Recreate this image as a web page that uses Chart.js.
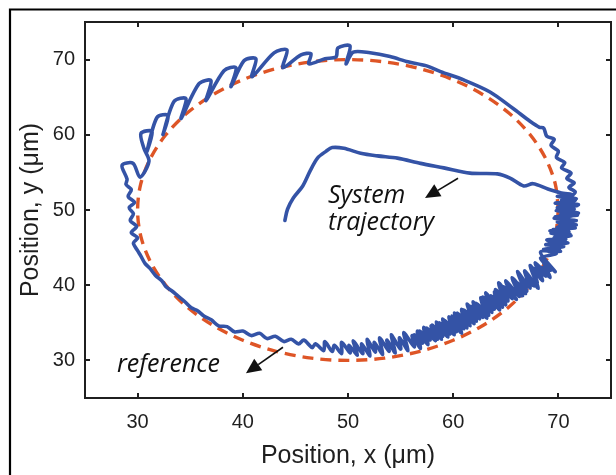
<!DOCTYPE html>
<html>
<head>
<meta charset="utf-8">
<script src="https://cdn.jsdelivr.net/npm/chart.js@4.4.1/dist/chart.umd.min.js"></script>
<style>
  html, body { margin: 0; padding: 0; background: #fff; }
  #wrap { width: 616px; height: 475px; }
</style>
</head>
<body>
<div id="wrap"><canvas id="orbitChart" width="616" height="475"></canvas></div>
<script>
// Axis ticks (um)
const xTicks = [30, 40, 50, 60, 70];
const yTicks = [30, 40, 50, 60, 70];

// Reference circle, sampled every 10 degrees
const refX = [70, 69.70, 68.79, 67.32, 65.32, 62.86, 60.00, 56.84, 53.47, 50, 46.53, 43.16, 40.00, 37.14, 34.68, 32.68, 31.21, 30.30,
              30, 30.30, 31.21, 32.68, 34.68, 37.14, 40.00, 43.16, 46.53, 50, 53.47, 56.84, 60.00, 62.86, 65.32, 67.32, 68.79, 69.70, 70];
const refY = [50, 53.47, 56.84, 60.00, 62.86, 65.32, 67.32, 68.79, 69.70, 70, 69.70, 68.79, 67.32, 65.32, 62.86, 60.00, 56.84, 53.47,
              50, 46.53, 43.16, 40.00, 37.14, 34.68, 32.68, 31.21, 30.30, 30, 30.30, 31.21, 32.68, 34.68, 37.14, 40.00, 43.16, 46.53, 50];

// Measured trajectory [x, y], piece by piece
const transientPath = [[44.0, 48.6], [44.25, 50.1], [44.8, 51.6], [45.7, 53.2], [46.4, 55.2], [47.1, 56.9], [47.9, 57.8], [48.5, 58.3],
  [49.6, 58.2], [51.2, 57.55], [52.8, 57.2], [54.7, 56.9], [56.9, 56.2], [59.1, 55.6], [61.6, 54.9], [64.2, 54.8], [65.4, 54.25],
  [66.7, 53.2], [67.6, 53.5], [69.0, 52.8], [70.2, 52.3]];
const rightSide = [[71.4, 52.0], [69.9, 51.8], [71.7, 51.5], [70.3, 51.3], [71.2, 51.1], [69.7, 50.9], [71.8, 50.6], [70.0, 50.4],
  [71.5, 50.1], [69.8, 49.9], [71.9, 49.6], [70.2, 49.4], [71.3, 49.2], [69.6, 48.9], [71.7, 48.6], [69.9, 48.4], [71.4, 48.1],
  [70.1, 47.9], [71.6, 47.6], [69.5, 47.4], [71.0, 47.1], [69.3, 46.9], [71.2, 46.6], [69.6, 46.3], [70.7, 46.1], [69.0, 45.9],
  [70.9, 45.6], [68.8, 45.4], [70.5, 45.1], [68.6, 44.8], [70.2, 44.5], [68.3, 44.4]];
const lowerRight = [[69.7, 41.8], [68.5, 43.4], [69.2, 41.0], [67.8, 43.0], [68.5, 40.6], [67.3, 42.6], [68.1, 39.6], [66.8, 41.9],
  [67.3, 39.6], [66.1, 41.8], [66.9, 38.9], [65.6, 41.0], [66.3, 38.5], [65.0, 40.6], [65.6, 38.2], [64.3, 40.3], [65.0, 37.4],
  [63.9, 39.1], [64.4, 36.7], [63.1, 39.0], [63.7, 36.4], [62.6, 38.3], [63.2, 35.6], [61.9, 37.8], [62.5, 35.5], [61.3, 37.5],
  [62.0, 34.9], [60.8, 36.8], [61.3, 34.3], [60.1, 36.3], [60.8, 33.6], [59.6, 35.8], [60.1, 33.4], [59.0, 35.5], [59.5, 33.1],
  [58.4, 35.1], [58.9, 32.8], [57.9, 34.6], [58.3, 32.6], [57.2, 34.4]];
const bottomArc = [[57.6, 32.1], [56.6, 33.9], [56.9, 31.6], [56.1, 33.3], [56.3, 31.8], [55.3, 33.7], [55.7, 31.3], [54.9, 33.0],
  [55.0, 31.5], [54.1, 33.4], [54.5, 31.0], [53.7, 32.7], [53.9, 31.2], [53.0, 33.0], [53.3, 30.8], [52.5, 32.4], [52.6, 31.1],
  [51.8, 32.8], [52.1, 30.6], [51.3, 32.2], [51.4, 30.9], [50.5, 32.6], [50.9, 30.7], [50.1, 32.0], [50.2, 31.0], [49.4, 32.4],
  [49.4, 30.9], [48.7, 32.0], [48.5, 31.2], [47.8, 32.5], [47.7, 31.3], [46.9, 32.2], [46.6, 31.7], [45.8, 32.7],
  [45.3, 32.2], [44.6, 32.8], [43.9, 32.5], [43.1, 33.2], [42.3, 32.9], [41.6, 33.6], [40.8, 33.3],
  [40.0, 33.9], [39.2, 33.8], [38.5, 34.5], [37.7, 34.6], [37.0, 35.4], [36.3, 35.9], [35.7, 36.6], [35.1, 37.0], [34.5, 37.8],
  [33.8, 38.6], [33.3, 39.2], [32.7, 39.8], [32.3, 40.6], [31.7, 41.3], [31.2, 42.2], [30.7, 42.9], [30.3, 43.9], [30.0, 44.6]];
const leftArc = [[29.6, 45.6], [30.0, 46.3], [29.4, 47.0], [29.9, 47.8], [29.3, 48.6], [29.6, 49.5], [29.2, 50.3], [29.7, 51.0],
  [29.1, 51.8], [29.4, 52.7], [28.9, 53.4], [29.0, 54.1]];
const topLeftTeeth = [[28.52, 55.95], [29.56, 56.22], [30.23, 54.37],
  [31.08, 56.48], [30.6, 58.2],
  [30.32, 60.19], [31.37, 60.45], [30.89, 57.80],
  [31.84, 62.30], [32.89, 62.57], [32.41, 60.05],
  [33.46, 64.42], [34.60, 64.81], [34.13, 62.17],
  [35.84, 66.80], [36.98, 67.20], [36.50, 64.55],
  [38.21, 68.52], [39.35, 68.92], [38.88, 66.40],
  [40.11, 69.84], [41.25, 70.11], [40.87, 67.72],
  [42.97, 70.90], [44.20, 71.30], [43.82, 68.92],
  [45.53, 70.63], [46.48, 70.77], [46.29, 69.44],
  [47.81, 70.11], [48.86, 70.37],
  [49.05, 71.56], [50.19, 71.83], [49.81, 69.44]];
const topRight = [[50.5, 71.0], [52.1, 70.9], [54.0, 70.4], [55.7, 69.7], [57.4, 69.2], [58.8, 68.4], [61.0, 67.3], [63.5, 65.7],
  [65.7, 63.5], [67.3, 61.8], [68.2, 61.0], [68.6, 60.9], [68.9, 59.8], [69.6, 59.4], [69.3, 58.6], [70.0, 57.8], [69.8, 57.0],
  [70.6, 56.3], [70.3, 55.6], [71.2, 54.9], [70.8, 54.2], [71.5, 53.6], [71.0, 53.0], [71.6, 52.4], [71.1, 51.8]];
// second pass over the noisy right / lower-right stretch
const rightSide2 = [[70.4, 51.5], [71.6, 51.3], [70.6, 50.9], [71.9, 50.7], [69.9, 50.3], [71.3, 50.0], [70.3, 49.7], [71.8, 49.3],
  [69.7, 49.1], [71.1, 48.7], [70.2, 48.4], [71.7, 48.0], [69.9, 47.7], [70.9, 47.4], [69.2, 47.2], [71.1, 46.8], [69.7, 46.5],
  [70.5, 46.2], [68.9, 46.0], [70.6, 45.5], [69.2, 45.2], [70.1, 44.9], [68.6, 44.7], [69.8, 44.2]];
const lowerRight2 = [[68.3, 43.6], [69.3, 42.0], [67.9, 42.5], [68.8, 41.2], [67.5, 42.3], [68.0, 40.3], [66.9, 41.3], [67.7, 39.9],
  [66.4, 40.9], [67.0, 39.2], [65.9, 40.5], [66.6, 38.6], [65.3, 39.7], [66.0, 38.1], [64.8, 39.8], [65.2, 37.9], [64.0, 39.4],
  [64.7, 37.1], [63.6, 38.6], [63.9, 36.8], [62.8, 38.4], [63.4, 36.0], [62.2, 37.6], [62.8, 35.7], [61.7, 37.2], [62.2, 35.2],
  [61.0, 36.7], [61.6, 34.6], [60.4, 36.3], [61.0, 34.2], [59.9, 35.9], [60.3, 33.8], [59.2, 35.3], [59.7, 33.5], [58.7, 35.0],
  [59.0, 33.2], [58.0, 34.7], [58.5, 32.8], [57.5, 34.3], [57.8, 32.7], [56.8, 33.9], [57.1, 32.3], [56.3, 33.4]];

const trajectory = [].concat(transientPath, rightSide, lowerRight, bottomArc, leftArc, topLeftTeeth, topRight, rightSide2, lowerRight2)
  .map(p => ({ x: p[0], y: p[1] }));
const reference = refX.map((x, i) => ({ x: x, y: refY[i] }));

const BLUE = "#3453a6";
const ORANGE = "#de5526";
const INK = "#1f1f1f";
const SANS = '"Liberation Sans", Arial, sans-serif';

// labels with arrows, placed in data units
const notes = [
  { lines: ["System", "trajectory"], x: 48.1, y: 50.93, dy: 27, tail: [60.46, 54.23], tip: [57.32, 51.59] },
  { lines: ["reference"], x: 28.04, y: 28.48, dy: 0, tail: [43.82, 31.75], tip: [40.3, 28.3] }
];

const framePlugin = {
  id: "frame",
  beforeDraw(chart) {
    const ctx = chart.ctx;
    ctx.save();
    ctx.fillStyle = "#fff";
    ctx.fillRect(0, 0, chart.width, chart.height);
    ctx.restore();
  },
  afterDraw(chart) {
    const { ctx, chartArea: a, scales: { x, y } } = chart;
    ctx.save();
    // figure border
    ctx.strokeStyle = "#000";
    ctx.lineWidth = 2.2;
    ctx.beginPath();
    ctx.moveTo(10, 480);
    ctx.lineTo(10, 9.5);
    ctx.lineTo(620, 9.5);
    ctx.stroke();

    // axes box
    ctx.strokeStyle = INK;
    ctx.lineWidth = 2;
    ctx.strokeRect(a.left, a.top, a.right - a.left, a.bottom - a.top);

    // inward ticks on every side
    ctx.beginPath();
    xTicks.forEach(v => {
      const px = Math.round(x.getPixelForValue(v));
      ctx.moveTo(px, a.bottom); ctx.lineTo(px, a.bottom - 5);
      ctx.moveTo(px, a.top); ctx.lineTo(px, a.top + 5);
    });
    yTicks.forEach(v => {
      const py = Math.round(y.getPixelForValue(v));
      ctx.moveTo(a.left, py); ctx.lineTo(a.left + 5, py);
      ctx.moveTo(a.right, py); ctx.lineTo(a.right - 5, py);
    });
    ctx.stroke();

    // annotations
    ctx.fillStyle = "#111";
    ctx.strokeStyle = "#111";
    ctx.font = 'italic 25px "Open Sans", sans-serif';
    ctx.textBaseline = "alphabetic";
    notes.forEach(n => {
      const tx = x.getPixelForValue(n.x);
      const ty = y.getPixelForValue(n.y);
      n.lines.forEach((s, i) => ctx.fillText(s, tx, ty + i * n.dy));
      const x0 = x.getPixelForValue(n.tail[0]), y0 = y.getPixelForValue(n.tail[1]);
      const x1 = x.getPixelForValue(n.tip[0]), y1 = y.getPixelForValue(n.tip[1]);
      const ang = Math.atan2(y1 - y0, x1 - x0);
      const head = 15, half = 7;
      const bx = x1 - head * Math.cos(ang), by = y1 - head * Math.sin(ang);
      ctx.lineWidth = 1.6;
      ctx.beginPath();
      ctx.moveTo(x0, y0);
      ctx.lineTo(bx, by);
      ctx.stroke();
      ctx.beginPath();
      ctx.moveTo(x1, y1);
      ctx.lineTo(bx + half * Math.sin(ang), by - half * Math.cos(ang));
      ctx.lineTo(bx - half * Math.sin(ang), by + half * Math.cos(ang));
      ctx.closePath();
      ctx.fill();
    });
    ctx.restore();
  }
};

new Chart(document.getElementById("orbitChart"), {
  type: "scatter",
  data: {
    datasets: [{
      label: "System trajectory",
      data: trajectory,
      showLine: true,
      borderColor: BLUE,
      borderWidth: 3.6,
      borderJoinStyle: "round",
      borderCapStyle: "round",
      pointRadius: 0,
      tension: 0.3,
    }, {
      label: "reference",
      data: reference,
      showLine: true,
      borderColor: ORANGE,
      borderWidth: 3.4,
      borderDash: [11, 7],
      pointRadius: 0,
      tension: 0.33,
    }],
  },
  options: {
    responsive: false,
    animation: false,
    layout: { padding: { top: 20, right: 5, left: 0, bottom: 0 } },
    plugins: { legend: { display: false }, tooltip: { enabled: false } },
    scales: {
      x: {
        type: "linear",
        min: 25,
        max: 75,
        afterBuildTicks: s => { s.ticks = xTicks.map(v => ({ value: v })); },
        afterFit: s => { s.height = 77; },
        grid: { display: false, drawTicks: false },
        border: { display: false },
        ticks: { padding: 12, color: INK, font: { family: SANS, size: 20 } },
        title: { display: true, text: "Position, x (\u03bcm)", color: INK, padding: { top: 0, bottom: 4 }, font: { family: SANS, size: 25 } },
      },
      y: {
        type: "linear",
        min: 25,
        max: 75,
        afterBuildTicks: s => { s.ticks = yTicks.map(v => ({ value: v })); },
        afterFit: s => { s.width = 85; },
        grid: { display: false, drawTicks: false },
        border: { display: false },
        ticks: { padding: 10, color: INK, font: { family: SANS, size: 20 } },
        title: { display: true, text: "Position, y (\u03bcm)", color: INK, padding: { top: 16, bottom: 0 }, font: { family: SANS, size: 25 } },
      },
    },
  },
  plugins: [framePlugin],
});
</script>
</body>
</html>
